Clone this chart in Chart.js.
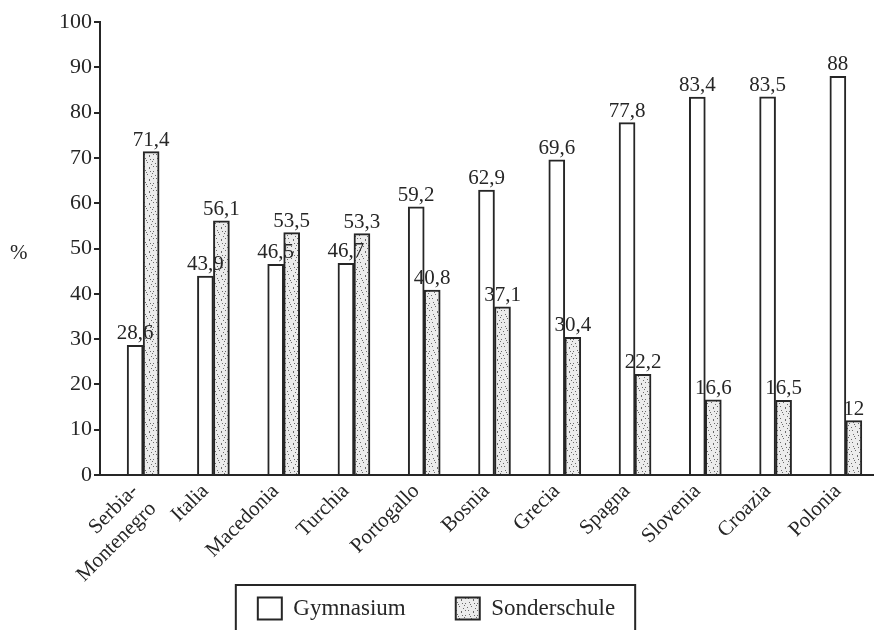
<!DOCTYPE html>
<html>
<head>
<meta charset="utf-8">
<script src="https://cdn.jsdelivr.net/npm/chart.js@4/dist/chart.umd.min.js"></script>
<style>
  html, body { margin: 0; padding: 0; background: #fff; }
  #wrap { width: 875px; height: 630px; }
</style>
</head>
<body>
<div id="wrap"><canvas id="c" width="875" height="630"></canvas></div>
<script>
const categories = [["Serbia-", "Montenegro"], "Italia", "Macedonia", "Turchia", "Portogallo",
  "Bosnia", "Grecia", "Spagna", "Slovenia", "Croazia", "Polonia"];
const gymnasium = [28.6, 43.9, 46.5, 46.7, 59.2, 62.9, 69.6, 77.8, 83.4, 83.5, 88];
const sonderschule = [71.4, 56.1, 53.5, 53.3, 40.8, 37.1, 30.4, 22.2, 16.6, 16.5, 12];
const yTicks = [0, 10, 20, 30, 40, 50, 60, 70, 80, 90, 100];

const SERIF = "'Liberation Serif', 'Times New Roman', serif";
const INK = '#262626';

// stippled grey fill for the Sonderschule bars
function stipple() {
  const c = document.createElement('canvas');
  c.width = 12; c.height = 12;
  const g = c.getContext('2d');
  g.fillStyle = '#ececec';
  g.fillRect(0, 0, 12, 12);
  g.fillStyle = '#6a6a6a';
  const dots = [[1,2],[5,0],[9,3],[3,6],[7,8],[11,7],[0,10],[5,11],[9,10],[2,4],[8,5],[6,3]];
  dots.forEach(([x, y]) => g.fillRect(x, y, 1, 1));
  return g.createPattern(c, 'repeat');
}
const dotted = stipple();

const fmt = v => String(v).replace('.', ',');

const valueLabels = {
  id: 'valueLabels',
  afterDatasetsDraw(chart) {
    const ctx = chart.ctx;
    ctx.save();
    ctx.font = '21px ' + SERIF;
    ctx.fillStyle = INK;
    ctx.textAlign = 'center';
    ctx.textBaseline = 'bottom';
    chart.data.datasets.forEach((ds, di) => {
      if (!ds.label) return;
      chart.getDatasetMeta(di).data.forEach((bar, i) => {
        ctx.fillText(fmt(ds.data[i]), bar.x, bar.y - 1);
      });
    });
    ctx.restore();
  }
};

const extras = {
  id: 'extras',
  afterDraw(chart) {
    const ctx = chart.ctx;
    const a = chart.chartArea;
    ctx.save();
    // y-axis unit
    ctx.font = '21px ' + SERIF;
    ctx.fillStyle = INK;
    ctx.textAlign = 'left';
    ctx.textBaseline = 'middle';
    ctx.fillText('%', 10, (a.top + a.bottom) / 2 + 5);
    // frame round the legend
    const boxes = chart.legend.legendHitBoxes;
    if (boxes && boxes.length) {
      const first = boxes[0], last = boxes[boxes.length - 1];
      const l = first.left - 22, r = last.left + last.width + 20;
      const t = first.top - 12;
      ctx.strokeStyle = INK;
      ctx.lineWidth = 2;
      ctx.beginPath();
      ctx.moveTo(l, chart.height + 2);
      ctx.lineTo(l, t);
      ctx.lineTo(r, t);
      ctx.lineTo(r, chart.height + 2);
      ctx.stroke();
    }
    ctx.restore();
  }
};

new Chart(document.getElementById('c'), {
  type: 'bar',
  data: {
    labels: categories,
    datasets: [
      { label: '', data: categories.map(() => null), backgroundColor: 'transparent', barThickness: 16 },
      { label: 'Gymnasium', data: gymnasium, backgroundColor: '#ffffff',
        borderColor: INK, borderWidth: 2, barThickness: 16, borderSkipped: 'bottom' },
      { label: 'Sonderschule', data: sonderschule, backgroundColor: dotted,
        borderColor: INK, borderWidth: 2, barThickness: 16, borderSkipped: 'bottom' }
    ]
  },
  options: {
    responsive: false,
    animation: false,
    devicePixelRatio: 1,
    layout: { padding: { left: 0, right: 2, top: 22, bottom: 0 } },
    plugins: {
      tooltip: { enabled: false },
      legend: {
        position: 'bottom',
        labels: {
          filter: item => item.text !== '',
          font: { family: SERIF, size: 23 },
          color: INK,
          boxWidth: 24,
          boxHeight: 22,
          padding: 50
        }
      }
    },
    scales: {
      x: {
        grid: { display: true, drawOnChartArea: false, drawTicks: false, color: 'transparent' },
        border: { display: true, color: INK, width: 2 },
        ticks: {
          font: { family: SERIF, size: 21 },
          color: INK,
          minRotation: 45,
          maxRotation: 45,
          padding: 4,
          autoSkip: false
        },
        afterFit(scale) {
          scale.height = 72;
          // let the slanted names run below the axis box into the space above the legend
          scale._computeLabelArea = () => undefined;
        }
      },
      y: {
        min: 0,
        max: 100,
        afterBuildTicks(scale) { scale.ticks = yTicks.map(v => ({ value: v })); },
        grid: { display: true, drawOnChartArea: false, drawTicks: true, tickLength: 6, color: INK, lineWidth: 2 },
        border: { display: true, color: INK, width: 2 },
        ticks: {
          font: { family: SERIF, size: 22 },
          color: INK,
          padding: 2
        },
        afterFit(scale) { scale.width = 100; }
      }
    }
  },
  plugins: [valueLabels, extras]
});
</script>
</body>
</html>
